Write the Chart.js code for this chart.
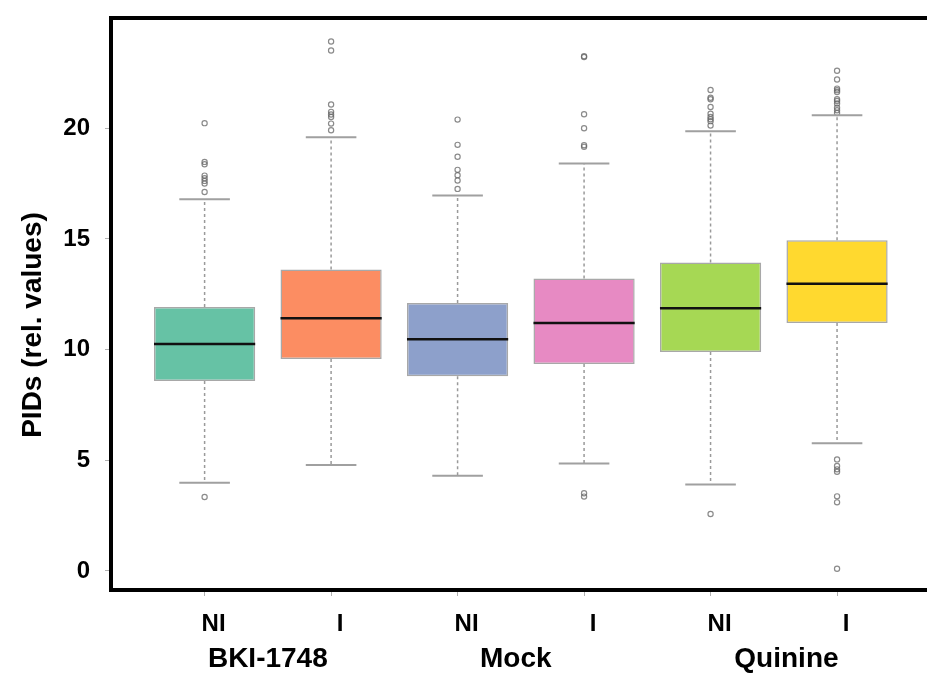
<!DOCTYPE html>
<html>
<head>
<meta charset="utf-8">
<script src="https://cdn.jsdelivr.net/npm/chart.js@4.4.1/dist/chart.umd.min.js"></script>
<style>
  html, body { margin: 0; padding: 0; background: #ffffff; overflow: hidden; }
  canvas { display: block; }
</style>
</head>
<body>
<canvas id="c" width="927" height="680"></canvas>
<script>
// ---- data ----
const categories = ["NI", "I", "NI", "I", "NI", "I"];
const groups = ["BKI-1748", "Mock", "Quinine"];
const boxColors = ["#66c2a5", "#fc8d62", "#8da0cb", "#e78ac3", "#a6d854", "#ffd92f"];
const q1 = [8.58, 9.57, 8.80, 9.35, 9.89, 11.20];
const medians = [10.25, 11.42, 10.47, 11.20, 11.87, 12.97];
const q3 = [11.92, 13.62, 12.10, 13.21, 13.94, 14.94];
const whiskerLow = [3.99, 4.79, 4.30, 4.85, 3.91, 5.77];
const whiskerHigh = [16.79, 19.59, 16.96, 18.41, 19.86, 20.59];
const outliers = [
  [20.23, 18.48, 18.37, 17.86, 17.74, 17.62, 17.50, 17.12, 3.34],
  [23.92, 23.51, 21.07, 20.74, 20.62, 20.51, 20.21, 19.91],
  [20.39, 19.25, 18.71, 18.12, 17.88, 17.64, 17.26],
  [23.25, 23.22, 20.63, 20.00, 19.23, 19.16, 3.51, 3.36],
  [21.73, 21.38, 21.31, 20.96, 20.66, 20.51, 20.41, 20.32, 20.12, 2.57],
  [22.60, 22.20, 21.79, 21.72, 21.64, 21.31, 21.23, 21.12, 20.93, 20.81, 20.69,
   5.04, 4.74, 4.59, 4.48, 3.37, 3.10, 0.10]
];
const yTickValues = [0, 5, 10, 15, 20];
const yTitle = "PIDs (rel. values)";

// ---- build datasets ----
const positions = categories.map((_, i) => i + 1);
const boxData = positions.map((x, i) => ({ x: x, y: [q1[i], q3[i]] }));
const outlierData = [];
outliers.forEach((arr, i) => arr.forEach(v => outlierData.push({ x: positions[i], y: v })));

const FONT = "'Liberation Sans', Arial, sans-serif";

const boxPlugin = {
  id: 'boxExtras',
  afterDatasetsDraw(chart) {
    const { ctx, scales: { x, y } } = chart;
    ctx.save();
    positions.forEach((p, i) => {
      const cx = x.getPixelForValue(p);
      const half = x.getPixelForValue(p + 0.4) - cx;
      const capHalf = x.getPixelForValue(p + 0.2) - cx;
      // whiskers (dotted)
      ctx.strokeStyle = '#9a9a9a';
      ctx.lineWidth = 1.5;
      ctx.setLineDash([3, 3]);
      ctx.beginPath();
      ctx.moveTo(cx, y.getPixelForValue(q3[i]));
      ctx.lineTo(cx, y.getPixelForValue(whiskerHigh[i]));
      ctx.moveTo(cx, y.getPixelForValue(q1[i]));
      ctx.lineTo(cx, y.getPixelForValue(whiskerLow[i]));
      ctx.stroke();
      ctx.setLineDash([]);
      // caps
      ctx.strokeStyle = '#a0a0a0';
      ctx.lineWidth = 2;
      ctx.beginPath();
      ctx.moveTo(cx - capHalf, y.getPixelForValue(whiskerHigh[i]));
      ctx.lineTo(cx + capHalf, y.getPixelForValue(whiskerHigh[i]));
      ctx.moveTo(cx - capHalf, y.getPixelForValue(whiskerLow[i]));
      ctx.lineTo(cx + capHalf, y.getPixelForValue(whiskerLow[i]));
      ctx.stroke();
      // median
      ctx.strokeStyle = '#111111';
      ctx.lineWidth = 2.5;
      ctx.beginPath();
      ctx.moveTo(cx - half, y.getPixelForValue(medians[i]));
      ctx.lineTo(cx + half, y.getPixelForValue(medians[i]));
      ctx.stroke();
    });
    ctx.restore();
  },
  afterDraw(chart) {
    const { ctx, chartArea: a, scales: { x } } = chart;
    ctx.save();
    // frame (right side lies outside the picture)
    ctx.strokeStyle = '#000000';
    ctx.lineWidth = 4;
    ctx.beginPath();
    ctx.moveTo(a.right + 10, a.top);
    ctx.lineTo(a.left, a.top);
    ctx.lineTo(a.left, a.bottom);
    ctx.lineTo(a.right + 10, a.bottom);
    ctx.stroke();
    // group labels
    ctx.fillStyle = '#000000';
    ctx.font = 'bold 28px ' + FONT;
    ctx.textAlign = 'center';
    ctx.textBaseline = 'alphabetic';
    const groupCenters = [1.5, 3.46, 5.6];
    groups.forEach((g, k) => {
      ctx.fillText(g, x.getPixelForValue(groupCenters[k]), 667);
    });
    // y title
    ctx.font = 'bold 28px ' + FONT;
    ctx.translate(41, 325);
    ctx.rotate(-Math.PI / 2);
    ctx.fillText(yTitle, 0, 0);
    ctx.restore();
  }
};

new Chart(document.getElementById('c'), {
  type: 'bar',
  data: {
    datasets: [
      {
        type: 'bar',
        data: boxData,
        backgroundColor: boxColors,
        borderColor: 'rgba(110,110,110,0.6)',
        borderWidth: 1.5,
        borderSkipped: false,
        categoryPercentage: 1.0,
        barPercentage: 0.8,
        order: 2
      },
      {
        type: 'scatter',
        data: outlierData,
        pointStyle: 'circle',
        pointRadius: 2.6,
        pointBackgroundColor: 'rgba(0,0,0,0)',
        pointBorderColor: 'rgba(100,100,100,0.75)',
        pointBorderWidth: 1.2,
        order: 1
      }
    ]
  },
  plugins: [boxPlugin],
  options: {
    responsive: false,
    animation: false,
    events: [],
    layout: { padding: { top: 18, left: 0, right: 0, bottom: 0 } },
    plugins: { legend: { display: false }, tooltip: { enabled: false }, title: { display: false } },
    scales: {
      x: {
        type: 'linear',
        offset: false,
        min: 0.26,
        max: 6.67,
        afterBuildTicks(scale) { scale.ticks = positions.map(v => ({ value: v })); },
        afterFit(scale) { scale.height = 90; scale.paddingLeft = 0; scale.paddingRight = 0; },
        border: { display: false },
        grid: { offset: false, drawOnChartArea: false, drawTicks: true, tickLength: 6, tickColor: '#b0b0b0', tickWidth: 1 },
        ticks: {
          callback: (v) => categories[Math.round(v) - 1] || '',
          color: '#000000',
          font: { family: FONT, size: 24, weight: 'bold' },
          padding: 14,
          labelOffset: 9,
          maxRotation: 0,
          autoSkip: false
        }
      },
      y: {
        type: 'linear',
        min: -0.86,
        max: 24.98,
        afterBuildTicks(scale) { scale.ticks = yTickValues.map(v => ({ value: v })); },
        afterFit(scale) { scale.width = 111; scale.paddingTop = 0; scale.paddingBottom = 0; },
        border: { display: false },
        grid: { drawOnChartArea: false, drawTicks: true, tickLength: 6, tickColor: '#b0b0b0', tickWidth: 1 },
        ticks: {
          color: '#000000',
          font: { family: FONT, size: 24, weight: 'bold' },
          padding: 15
        }
      }
    }
  }
});
</script>
</body>
</html>
